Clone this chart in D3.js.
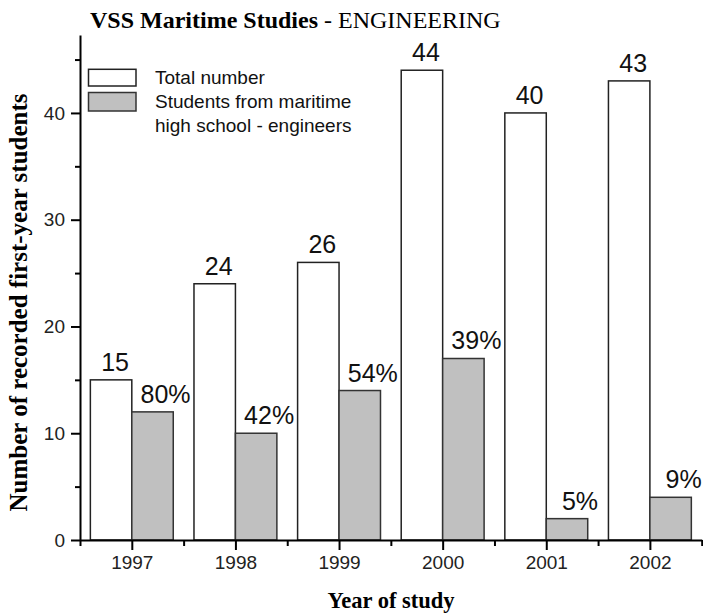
<!DOCTYPE html>
<html>
<head>
<meta charset="utf-8">
<script src="https://cdn.jsdelivr.net/npm/d3@7"></script>
<style>
  html, body { margin: 0; padding: 0; background: #fff; }
  svg { display: block; }
</style>
</head>
<body>
<svg id="chart" width="703" height="616"></svg>
<script>
const years = [1997, 1998, 1999, 2000, 2001, 2002];
const totalNumber = [15, 24, 26, 44, 40, 43];
const maritimeStudents = [12, 10, 14, 17, 2, 4];
const percentLabels = ["80%", "42%", "54%", "39%", "5%", "9%"];
const yMajorTicks = [0, 10, 20, 30, 40];
const yMinorTicks = [5, 15, 25, 35, 45];
const xMinorTicks = [1996.5, 1997.5, 1998.5, 1999.5, 2000.5, 2001.5, 2002.5];
const seriesNames = ["Total number", "Students from maritime", "high school - engineers"];

const svg = d3.select("#chart");
const x = d3.scaleLinear().domain([1996.5, 2002.5]).range([80, 701.7]);
const y = d3.scaleLinear().domain([0, 47.3]).range([540, 35]);
const barW = 0.4;
const grey = "#c0c0c0";
const sans = "Liberation Sans, Arial, sans-serif";
const serif = "Liberation Serif, Times New Roman, serif";

// Title
const title = svg.append("text").attr("x", 90).attr("y", 28.3)
  .attr("font-family", serif).attr("font-size", 24).attr("fill", "#000");
title.append("tspan").attr("font-weight", "bold").text("VSS Maritime Studies");
title.append("tspan").text(" - ENGINEERING");

// Bars: total
svg.append("g").selectAll("rect").data(years).join("rect")
  .attr("x", d => x(d - barW))
  .attr("y", (d, i) => y(totalNumber[i]))
  .attr("width", d => x(d) - x(d - barW))
  .attr("height", (d, i) => y(0) - y(totalNumber[i]))
  .attr("fill", "#fff").attr("stroke", "#222").attr("stroke-width", 1.5);

// Bars: maritime
svg.append("g").selectAll("rect").data(years).join("rect")
  .attr("x", d => x(d))
  .attr("y", (d, i) => y(maritimeStudents[i]))
  .attr("width", d => x(d + barW) - x(d))
  .attr("height", (d, i) => y(0) - y(maritimeStudents[i]))
  .attr("fill", grey).attr("stroke", "#333").attr("stroke-width", 1.5);

// Value labels
svg.append("g").selectAll("text").data(years).join("text")
  .attr("x", d => (x(d - barW) + x(d)) / 2 + 4)
  .attr("y", (d, i) => y(totalNumber[i]) - 9)
  .attr("text-anchor", "middle").attr("font-family", sans).attr("font-size", 25)
  .attr("fill", "#111")
  .text((d, i) => totalNumber[i]);

svg.append("g").selectAll("text").data(years).join("text")
  .attr("x", d => (x(d) + x(d + barW)) / 2 + 13)
  .attr("y", (d, i) => y(maritimeStudents[i]) - 9)
  .attr("text-anchor", "middle").attr("font-family", sans).attr("font-size", 25)
  .attr("fill", "#111")
  .text((d, i) => percentLabels[i]);

// X axis
const xAxis = d3.axisBottom(x).tickValues(years).tickFormat(d3.format("d"))
  .tickSize(10).tickSizeOuter(0).tickPadding(6);
const gx = svg.append("g").attr("transform", `translate(0,${y(0)})`).call(xAxis);
gx.select(".domain").attr("stroke", "#000").attr("stroke-width", 2);
gx.selectAll(".tick line").attr("stroke", "#000").attr("stroke-width", 2);
gx.selectAll(".tick text").attr("font-family", sans).attr("font-size", 19).attr("fill", "#222");
const xMinor = d3.axisBottom(x).tickValues(xMinorTicks).tickSize(6).tickSizeOuter(0).tickFormat("");
const gxm = svg.append("g").attr("transform", `translate(0,${y(0)})`).call(xMinor);
gxm.select(".domain").remove();
gxm.selectAll(".tick line").attr("stroke", "#000").attr("stroke-width", 2);

// Y axis
const yAxis = d3.axisLeft(y).tickValues(yMajorTicks).tickFormat(d3.format("d"))
  .tickSize(9).tickSizeOuter(0).tickPadding(6);
const gy = svg.append("g").attr("transform", `translate(${x(1996.5)},0)`).call(yAxis);
gy.select(".domain").attr("stroke", "#000").attr("stroke-width", 2);
gy.selectAll(".tick line").attr("stroke", "#000").attr("stroke-width", 2);
gy.selectAll(".tick text").attr("font-family", sans).attr("font-size", 19).attr("fill", "#222");
const yMinor = d3.axisLeft(y).tickValues(yMinorTicks).tickSize(5).tickSizeOuter(0).tickFormat("");
const gym = svg.append("g").attr("transform", `translate(${x(1996.5)},0)`).call(yMinor);
gym.select(".domain").remove();
gym.selectAll(".tick line").attr("stroke", "#000").attr("stroke-width", 2);

// Axis titles
svg.append("text").attr("x", 391).attr("y", 608).attr("text-anchor", "middle")
  .attr("font-family", serif).attr("font-weight", "bold").attr("font-size", 22.5)
  .text("Year of study");
svg.append("text").attr("transform", "translate(26.5,302.5) rotate(-90)")
  .attr("text-anchor", "middle").attr("font-family", serif).attr("font-weight", "bold")
  .attr("font-size", 25).text("Number of recorded first-year students");

// Legend
const lg = svg.append("g");
lg.append("rect").attr("x", 88.5).attr("y", 69.3).attr("width", 47.5).attr("height", 16.7)
  .attr("fill", "#fff").attr("stroke", "#222").attr("stroke-width", 1.5);
lg.append("rect").attr("x", 88.5).attr("y", 92.5).attr("width", 47.5).attr("height", 18.5)
  .attr("fill", grey).attr("stroke", "#333").attr("stroke-width", 1.5);
const legendY = [84, 107.5, 131.5];
lg.selectAll("text.lt").data(seriesNames).join("text").attr("class", "lt")
  .attr("x", 155).attr("y", (d, i) => legendY[i])
  .attr("font-family", sans).attr("font-size", 19).attr("fill", "#111")
  .text(d => d);
</script>
</body>
</html>
